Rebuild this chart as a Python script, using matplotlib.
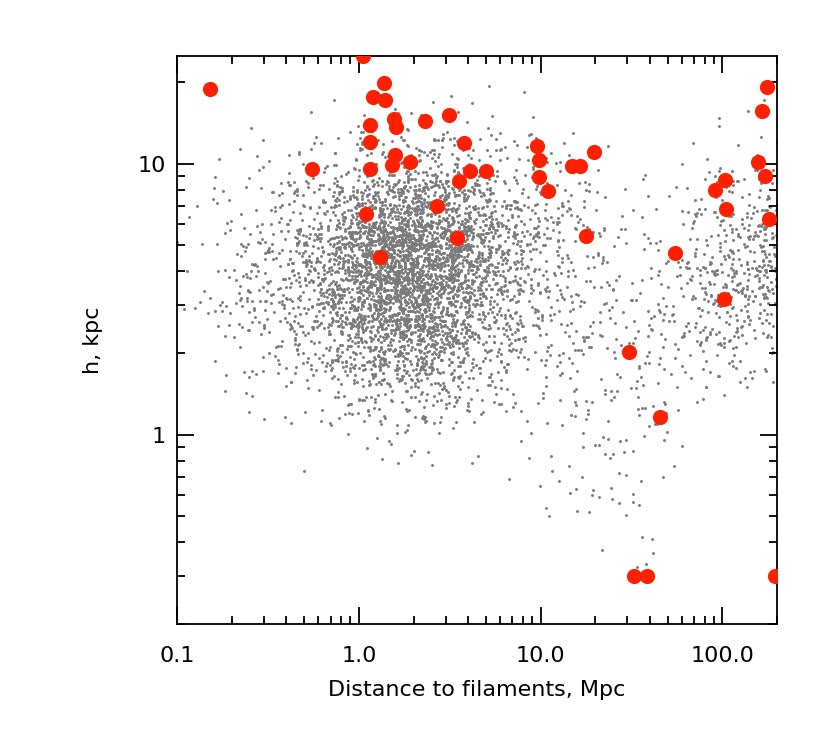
import numpy as np
import matplotlib
matplotlib.use('Agg')
import matplotlib.pyplot as plt
from matplotlib.ticker import FixedLocator, NullFormatter

# red points: distance (Mpc) and scale height h (kpc)
red_dist = [0.151, 1.056, 1.373, 1.19, 1.385, 1.564, 1.599, 1.154, 2.31, 3.12,
            1.154, 3.80, 1.585, 1.525, 1.92, 0.553, 1.154, 4.10, 4.98, 3.58,
            1.093, 2.69, 3.45, 1.305,
            176.7, 165.0, 9.58, 9.79, 9.83, 11.0, 14.9, 16.4, 19.8, 17.7,
            54.6, 158.0, 172.0, 103.0, 91.0, 105.0, 181.0,
            101.6, 30.5, 45.4, 32.7, 38.6, 196.0]
red_h = [18.9, 25.0, 19.9, 17.6, 17.1, 14.6, 13.7, 13.9, 14.4, 15.1,
         12.0, 11.9, 10.8, 9.9, 10.1, 9.53, 9.55, 9.37, 9.37, 8.61,
         6.54, 6.96, 5.31, 4.53,
         19.1, 15.6, 11.6, 10.3, 8.93, 7.95, 9.8, 9.83, 11.0, 5.41,
         4.66, 10.1, 8.96, 8.71, 8.0, 6.79, 6.27,
         3.17, 2.02, 1.16, 0.30, 0.30, 0.30]

# grey cloud: approximate number of points per cell, estimated by eye
# cells are in log10(distance) x log10(h); rows run from high h to low h
cloud_logx_edges = [-1.0, -0.8, -0.6, -0.4, -0.2, 0.0, 0.2, 0.4, 0.6, 0.8,
                    1.0, 1.2, 1.4, 1.6, 1.8, 2.0, 2.2, 2.3]
cloud_logy_edges = [1.25, 1.1, 0.95, 0.8, 0.65, 0.5, 0.35, 0.2, 0.05, -0.1,
                    -0.25, -0.4, -0.55]
cloud_counts = [
    [0, 0, 0, 1, 2, 4, 5, 5, 4, 3, 1, 0, 0, 0, 1, 1, 1],
    [0, 3, 5, 8, 16, 30, 36, 34, 22, 14, 10, 4, 1, 1, 4, 7, 6],
    [2, 6, 12, 25, 58, 115, 135, 115, 68, 36, 20, 8, 4, 4, 15, 24, 18],
    [3, 12, 25, 52, 120, 245, 280, 220, 105, 54, 30, 14, 7, 9, 28, 42, 38],
    [5, 15, 28, 56, 125, 250, 285, 215, 100, 52, 30, 16, 8, 15, 38, 50, 40],
    [4, 12, 24, 46, 100, 185, 215, 150, 68, 34, 24, 16, 10, 17, 32, 40, 24],
    [1, 5, 13, 25, 52, 88, 112, 78, 35, 19, 16, 14, 11, 14, 17, 15, 5],
    [0, 1, 4, 8, 15, 26, 32, 22, 11, 8, 8, 11, 11, 7, 4, 1, 0],
    [0, 0, 0, 1, 3, 5, 7, 5, 3, 3, 4, 8, 8, 3, 0, 0, 0],
    [0, 0, 0, 0, 0, 0, 0, 0, 0, 1, 4, 6, 6, 1, 0, 0, 0],
    [0, 0, 0, 0, 0, 0, 0, 0, 0, 0, 1, 4, 5, 0, 0, 0, 0],
    [0, 0, 0, 0, 0, 0, 0, 0, 0, 0, 0, 1, 3, 0, 0, 0, 0],
]

# spread the counted points over their cells (positions inside a cell are not readable)
rng = np.random.default_rng(7)
gx, gy = [], []
for i, row in enumerate(cloud_counts):
    y0, y1 = cloud_logy_edges[i + 1], cloud_logy_edges[i]
    for j, n in enumerate(row):
        if n == 0:
            continue
        x0, x1 = cloud_logx_edges[j], cloud_logx_edges[j + 1]
        gx.append(rng.uniform(x0, x1, n) + rng.normal(0, 0.04, n))
        gy.append(rng.uniform(y0, y1, n) + rng.normal(0, 0.03, n))
gx = 10 ** np.concatenate(gx)
gy = 10 ** np.concatenate(gy)

fig = plt.figure(figsize=(8.3, 7.38), dpi=100)
ax = fig.add_axes([0.2133, 0.1545, 0.7229, 0.77])

ax.scatter(gx, gy, s=4.5, c='#7a7a7a', linewidths=0)
ax.scatter(red_dist, red_h, s=120, c='#ff2000', linewidths=0, zorder=3)

ax.set_xscale('log')
ax.set_yscale('log')
ax.set_xlim(0.1, 200)
ax.set_ylim(0.2, 25)

ax.xaxis.set_major_locator(FixedLocator([0.1, 1, 10, 100]))
ax.set_xticklabels(['0.1', '1.0', '10.0', '100.0'])
ax.xaxis.set_minor_locator(FixedLocator(
    [m * d for d in [0.1, 1, 10, 100] for m in range(2, 10)]))
ax.yaxis.set_major_locator(FixedLocator([1, 10]))
ax.set_yticklabels(['1', '10'])
ax.yaxis.set_minor_locator(FixedLocator(
    [m * d for d in [0.1, 1, 10] for m in range(2, 10)]))
ax.xaxis.set_minor_formatter(NullFormatter())
ax.yaxis.set_minor_formatter(NullFormatter())

ax.tick_params(which='both', direction='in', top=True, right=True, width=1.3, colors='black')
ax.tick_params(which='major', length=12)
ax.tick_params(which='minor', length=6)
ax.tick_params(axis='x', which='major', pad=16, labelsize=16)
ax.tick_params(axis='y', which='major', pad=8, labelsize=16)
for sp in ax.spines.values():
    sp.set_linewidth(1.3)

ax.set_xlabel('Distance to filaments, Mpc', fontsize=16, va='center')
ax.xaxis.set_label_coords(0.5, -0.116)
ax.set_ylabel('h, kpc', fontsize=16, va='center')
ax.yaxis.set_label_coords(-0.14, 0.5)

fig.savefig('out.png', dpi=100)
